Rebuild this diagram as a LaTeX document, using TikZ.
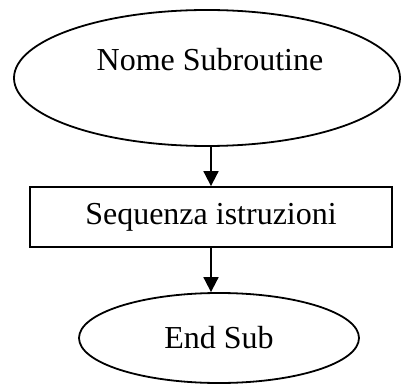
\documentclass[tikz,border=0pt]{standalone}
\usepackage{fontspec}
\setmainfont{Liberation Serif}
\usetikzlibrary{arrows.meta, shapes.geometric}

\begin{document}
\begin{tikzpicture}[x=1pt, y=-1pt, >={Triangle[length=15pt, width=15pt]},
  font=\fontsize{32}{38}\selectfont,
  terminal/.style={draw, ellipse, line width=1.8pt, inner sep=0pt},
  process/.style={draw, rectangle, line width=1.8pt, inner sep=0pt},
  flow/.style={->, line width=1.8pt}]
  \useasboundingbox (0,0) rectangle (401,385);

  % start of the subroutine
  \node[terminal, minimum width=386pt, minimum height=136pt,
    label={[yshift=18pt, xshift=3pt]center:Nome Subroutine}]
    (nome) at (207,78) {};

  % body
  \node[process, minimum width=362pt, minimum height=60pt]
    (seq) at (211,217) {Sequenza istruzioni};

  % end of the subroutine
  \node[terminal, minimum width=280pt, minimum height=90pt]
    (fine) at (219,338) {End Sub};

  \draw[flow] (nome.south -| seq.north) -- (seq.north);
  \draw[flow] (seq.south) -- (seq.south |- fine.north);
\end{tikzpicture}
\end{document}
